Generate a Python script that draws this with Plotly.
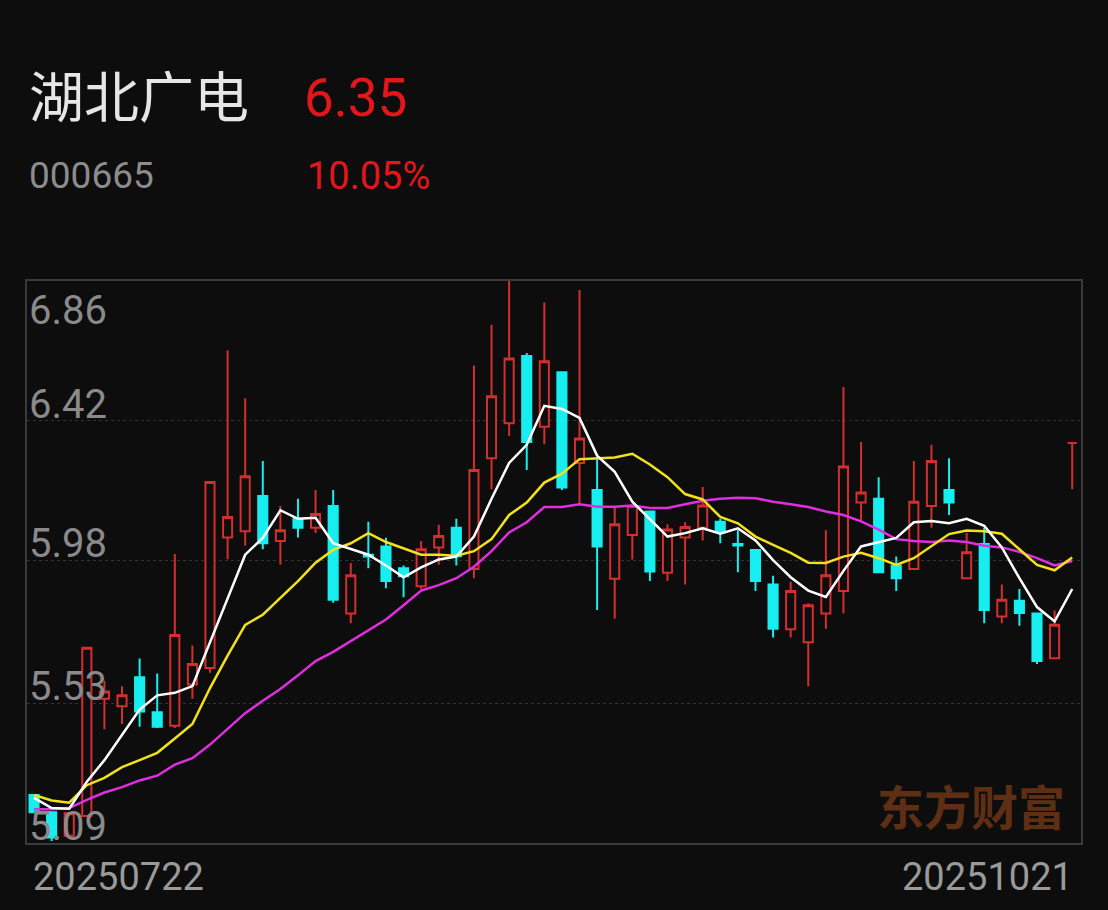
"""Candlestick chart for 湖北广电 (000665) with MA5/MA10/MA20."""

import plotly.graph_objects as go

BG = "#0d0d0d"
RED = "#d32f2f"
CYAN = "#16eef0"
FONT = "Roboto, Noto Sans CJK SC, sans-serif"

JUL = [22, 23, 24, 25, 28, 29, 30, 31]
AUG = [1, 4, 5, 6, 7, 8, 11, 12, 13, 14, 15, 18, 19, 20, 21, 22, 25, 26, 27, 28, 29]
SEP = [1, 2, 3, 4, 5, 8, 9, 10, 11, 12, 15, 16, 17, 18, 19, 22, 23, 24, 25, 26, 29, 30]
OCT = [9, 10, 13, 14, 15, 16, 17, 20, 21]
dates = ([f"202507{d:02d}" for d in JUL] + [f"202508{d:02d}" for d in AUG]
         + [f"202509{d:02d}" for d in SEP] + [f"202510{d:02d}" for d in OCT])

opens = [5.241, 5.187, 5.113, 5.175, 5.544, 5.521, 5.612, 5.502, 5.459, 5.589,
         5.641, 6.052, 6.072, 6.183, 6.041, 6.111, 6.083, 6.151, 5.813, 5.998,
         6.024, 5.955, 5.899, 6.021, 6.083, 5.953, 6.302, 6.412, 6.624, 6.401,
         6.573, 6.287, 6.202, 5.922, 6.060, 6.134, 5.941, 6.052, 6.083, 6.102,
         6.032, 6.013, 5.904, 5.763, 5.722, 5.813, 5.884, 6.162, 6.174, 5.964,
         5.953, 6.151, 6.202, 5.924, 6.032, 5.803, 5.853, 5.813, 5.672, 6.350]
highs = [5.241, 5.190, 5.184, 5.705, 5.601, 5.584, 5.671, 5.624, 6.000, 5.712,
         6.227, 6.642, 6.491, 6.293, 6.151, 6.174, 6.202, 6.202, 5.972, 6.102,
         6.051, 5.964, 6.041, 6.092, 6.111, 6.594, 6.722, 6.860, 6.633, 6.792,
         6.573, 6.832, 6.299, 6.145, 6.151, 6.134, 6.094, 6.100, 6.211, 6.111,
         6.075, 6.013, 5.932, 5.913, 5.845, 6.075, 6.526, 6.353, 6.242, 5.992,
         6.293, 6.344, 6.302, 6.066, 6.083, 5.904, 5.890, 5.813, 5.822, 6.350]
lows = [5.187, 5.096, 5.110, 5.175, 5.448, 5.465, 5.456, 5.452, 5.452, 5.544,
        5.626, 5.984, 6.026, 6.015, 5.966, 6.052, 6.066, 5.847, 5.782, 5.955,
        5.892, 5.864, 5.890, 5.966, 5.964, 5.924, 6.204, 6.372, 6.265, 6.346,
        6.202, 6.157, 5.824, 5.796, 5.983, 5.915, 5.915, 5.904, 6.043, 6.034,
        5.943, 5.884, 5.737, 5.737, 5.584, 5.765, 5.813, 6.103, 5.943, 5.884,
        5.953, 6.083, 6.123, 5.924, 5.782, 5.782, 5.774, 5.654, 5.672, 6.204]
closes = [5.187, 5.107, 5.184, 5.705, 5.567, 5.555, 5.504, 5.456, 5.745, 5.654,
          6.227, 6.117, 6.245, 6.034, 6.075, 6.083, 6.126, 5.856, 5.933, 5.992,
          5.915, 5.930, 6.015, 6.057, 5.993, 6.265, 6.497, 6.616, 6.353, 6.607,
          6.210, 6.364, 6.024, 6.094, 6.151, 5.945, 6.077, 6.085, 6.153, 6.072,
          6.027, 5.915, 5.765, 5.884, 5.839, 5.933, 6.276, 6.194, 5.943, 5.924,
          6.165, 6.293, 6.162, 6.006, 5.824, 5.856, 5.814, 5.663, 5.777, 6.350]

ma5 = [5.232, 5.200, 5.198, 5.283, 5.351, 5.431, 5.510, 5.555, 5.563, 5.584,
       5.720, 5.856, 5.998, 6.051, 6.138, 6.111, 6.114, 6.034, 6.015, 5.998,
       5.964, 5.927, 5.958, 5.983, 5.992, 6.055, 6.174, 6.287, 6.344, 6.467,
       6.457, 6.429, 6.310, 6.259, 6.165, 6.111, 6.055, 6.066, 6.081, 6.064,
       6.081, 6.043, 5.981, 5.927, 5.885, 5.865, 5.947, 6.024, 6.038, 6.051,
       6.100, 6.104, 6.097, 6.111, 6.089, 6.021, 5.924, 5.833, 5.788, 5.890]
ma10 = [5.241, 5.224, 5.217, 5.272, 5.295, 5.329, 5.351, 5.374, 5.419, 5.465,
        5.578, 5.680, 5.777, 5.809, 5.862, 5.915, 5.973, 6.013, 6.034, 6.066,
        6.038, 6.017, 5.998, 5.998, 5.995, 6.009, 6.047, 6.123, 6.162, 6.225,
        6.253, 6.299, 6.301, 6.304, 6.316, 6.282, 6.242, 6.189, 6.172, 6.117,
        6.097, 6.055, 6.029, 6.004, 5.973, 5.972, 5.992, 6.004, 5.987, 5.966,
        5.987, 6.026, 6.063, 6.074, 6.072, 6.064, 6.015, 5.966, 5.949, 5.989]
ma20 = [5.196, 5.196, 5.200, 5.226, 5.249, 5.266, 5.287, 5.302, 5.337, 5.357,
        5.400, 5.448, 5.499, 5.538, 5.575, 5.618, 5.663, 5.692, 5.726, 5.760,
        5.794, 5.839, 5.885, 5.902, 5.924, 5.960, 6.009, 6.068, 6.100, 6.148,
        6.148, 6.157, 6.149, 6.149, 6.153, 6.145, 6.145, 6.157, 6.168, 6.174,
        6.177, 6.176, 6.165, 6.157, 6.148, 6.134, 6.123, 6.103, 6.077, 6.047,
        6.041, 6.038, 6.043, 6.038, 6.026, 6.021, 6.007, 5.987, 5.964, 5.978]

y_ticks = [5.09, 5.53, 5.98, 6.42, 6.86]


def candle_trace(idx, color, fill):
    side = dict(line=dict(color=color, width=2), fillcolor=fill)
    return go.Candlestick(
        x=[dates[i] for i in idx],
        open=[opens[i] for i in idx],
        high=[highs[i] for i in idx],
        low=[lows[i] for i in idx],
        close=[closes[i] for i in idx],
        increasing=side, decreasing=side,
        whiskerwidth=0, showlegend=False, hoverinfo="x+y",
    )


up = [i for i in range(len(dates)) if closes[i] >= opens[i]]
down = [i for i in range(len(dates)) if closes[i] < opens[i]]

fig = go.Figure()
fig.add_trace(candle_trace(up, RED, BG))
fig.add_trace(candle_trace(down, CYAN, CYAN))
for vals, col in [(ma20, "#e02ee0"), (ma10, "#f2e11c"), (ma5, "#ffffff")]:
    fig.add_trace(go.Scatter(x=dates, y=vals, mode="lines",
                             line=dict(color=col, width=2.5), showlegend=False))

# header texts
ann = [
    dict(text="湖北广电", x=0.0, y=1.326, font=dict(size=55, color="#e6e6e6")),
    dict(text="6.35", x=0.261, y=1.326, font=dict(size=53, color="#e3161b")),
    dict(text="000665", x=0.0, y=1.187, font=dict(size=37, color="#8c8c8c")),
    dict(text="10.05%", x=0.264, y=1.187, font=dict(size=38, color="#e3161b")),
    dict(text="20250722", x=0.004, y=-0.061, font=dict(size=38, color="#9a9a9a")),
]
for a in ann:
    fig.add_annotation(xref="paper", yref="paper", xanchor="left", yanchor="middle",
                       showarrow=False, **a)
fig.add_annotation(text="20251021", xref="paper", yref="paper", x=0.994, y=-0.061,
                   xanchor="right", yanchor="middle", showarrow=False,
                   font=dict(size=38, color="#9a9a9a"))
fig.add_annotation(text="<b>东方财富</b>", xref="paper", yref="paper", x=0.896, y=0.068,
                   xanchor="center", yanchor="middle", showarrow=False,
                   font=dict(size=47, color="#5e2f14", family="Noto Sans CJK SC"))

# y labels sit just above their gridline, except the top one
for v in y_ticks:
    top = v == y_ticks[-1]
    fig.add_annotation(text=f"{v:.2f}", xref="paper", yref="y", x=0.0, y=v,
                       xanchor="left", yanchor="top" if top else "bottom",
                       yshift=-4 if top else -9, showarrow=False,
                       font=dict(size=40, color="#8a8a8a"))

fig.update_layout(
    width=1108, height=910,
    paper_bgcolor=BG, plot_bgcolor=BG,
    margin=dict(l=27, r=27, t=281, b=67),
    font=dict(family=FONT),
    boxgap=0.26,
    xaxis=dict(type="category", categoryorder="array", categoryarray=dates,
               range=[-0.4, 59.5], showgrid=False, showticklabels=False,
               zeroline=False, showline=True, mirror=True, linecolor="#3a3a3a",
               linewidth=2, rangeslider=dict(visible=False)),
    yaxis=dict(range=[5.09, 6.86], tickvals=y_ticks, showticklabels=False,
               showgrid=True, gridcolor="#333333", griddash="dot", gridwidth=1,
               zeroline=False, showline=True, mirror=True, linecolor="#3a3a3a",
               linewidth=2),
)

# drop the default page margin so the figure fills the window
fig.write_html("out.html", config={"displayModeBar": False}, post_script=(
    "document.body.style.margin='0';"
    "document.body.style.background='" + BG + "';"
    "document.body.style.overflow='hidden';"
))
